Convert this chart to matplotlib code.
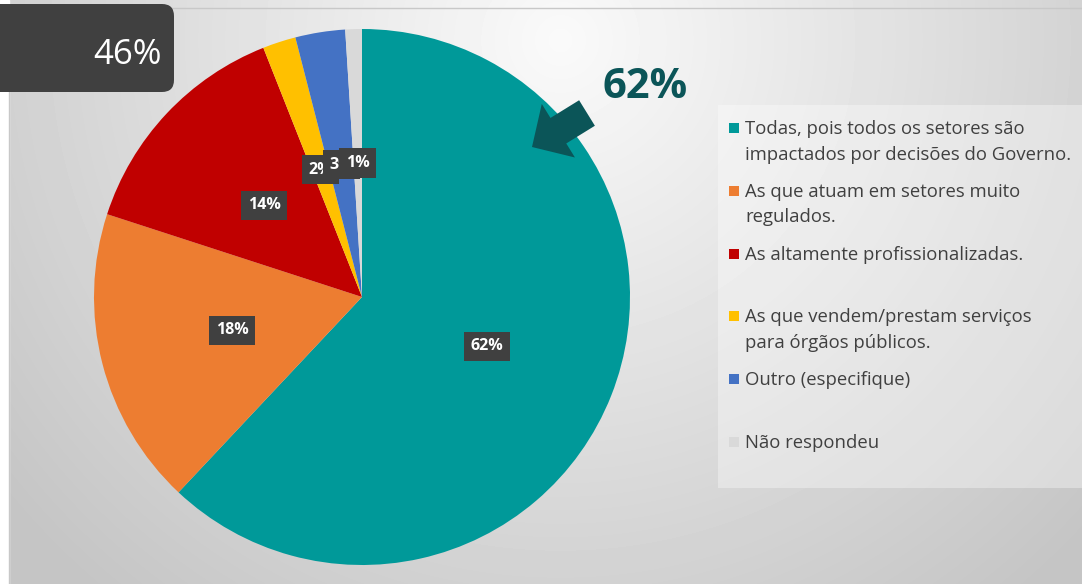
import numpy as np
import matplotlib
matplotlib.use("Agg")
import matplotlib.pyplot as plt
import matplotlib.patches as mpatches

# data
labels = [
    "Todas, pois todos os setores são\nimpactados por decisões do Governo.",
    "As que atuam em setores muito\nregulados.",
    "As altamente profissionalizadas.",
    "As que vendem/prestam serviços\npara órgãos públicos.",
    "Outro (especifique)",
    "Não respondeu",
]
values = [62, 18, 14, 2, 3, 1]
colors = ["#009999", "#ED7D31", "#C00000", "#FFC000", "#4472C4", "#D9D9D9"]
highlight = "62%"
corner_value = "46%"

plt.rcParams["font.family"] = ["Open Sans", "DejaVu Sans"]

W, H = 1082, 584
fig = plt.figure(figsize=(W / 100, H / 100), dpi=100)
fig.patch.set_facecolor("white")

# background gradient (pixel coordinates)
bg = fig.add_axes([0, 0, 1, 1], zorder=0)
yy, xx = np.mgrid[0:H, 0:W]
d = np.hypot(xx - 560, yy - 40)
shade = np.clip(0.98 - 0.00029 * d, 0.77, 0.98)
bg.imshow(shade, cmap="gray", vmin=0, vmax=1, extent=(0, W, H, 0), aspect="auto")
bg.add_patch(mpatches.Rectangle((0, 0), 9, H, color="white", zorder=2))
bg.plot([9, 9, W], [H, 8, 8], color="#c8c8c8", lw=1, zorder=3)
bg.set_xlim(0, W)
bg.set_ylim(H, 0)
bg.axis("off")

# pie
ax = fig.add_axes([94 / W, 19 / H, 536 / W, 536 / H], zorder=1)
wedges, texts, autotexts = ax.pie(
    values, colors=colors, startangle=90, counterclock=False, radius=1,
    autopct="%1.0f%%", pctdistance=0.5,
    wedgeprops=dict(linewidth=0),
    textprops=dict(color="white", fontsize=11.5, fontweight="bold"),
)
for t in autotexts:
    t.set_bbox(dict(boxstyle="square,pad=0.42", fc="#404040", ec="none"))
ax.set_xlim(-1, 1)
ax.set_ylim(-1, 1)
ax.set_aspect("equal")

# overlay for annotations / legend
ov = fig.add_axes([0, 0, 1, 1], zorder=2)
ov.set_xlim(0, W)
ov.set_ylim(H, 0)
ov.axis("off")

# dark corner box
ov.add_patch(mpatches.FancyBboxPatch((-20, 4), 194, 88,
                                     boxstyle="round,pad=0,rounding_size=12",
                                     fc="#404040", ec="none"))
ov.text(128, 55, corner_value, color="white", fontsize=25,
        ha="center", va="center")

# highlight text + arrow
ov.text(645, 87, highlight, color="#0B5558", fontsize=30, fontweight="bold",
        ha="center", va="center")
ov.add_patch(mpatches.FancyArrow(587, 113, -55, 34, width=30, head_width=63,
                                 head_length=31, length_includes_head=True,
                                 fc="#0B5558", ec="none"))

# legend box
ov.add_patch(mpatches.Rectangle((718, 105), 370, 383, fc="white", alpha=0.35,
                                ec="none"))
y0 = 128
for i, (lab, col) in enumerate(zip(labels, colors)):
    y = y0 + i * 62.8
    ov.add_patch(mpatches.Rectangle((729, y - 5), 10, 10, fc=col, ec="none"))
    ov.text(745, y - 8, lab, fontsize=13.3, color="#404040", ha="left",
            va="top", linespacing=1.55)

fig.savefig("out.png", dpi=100)
